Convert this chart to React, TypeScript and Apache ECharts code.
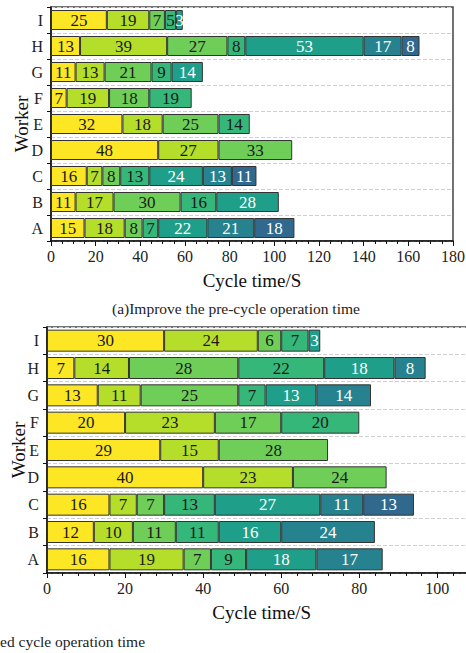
import React, { useEffect, useRef } from "react";
import * as echarts from "echarts";

const workers = ["A", "B", "C", "D", "E", "F", "G", "H", "I"];

// Pre-cycle operation time segments per worker (A..I)
const preA = [15, 18, 8, 7, 22, 21, 18];
const preB = [11, 17, 30, 16, 28];
const preC = [16, 7, 8, 13, 24, 13, 11];
const preD = [48, 27, 33];
const preE = [32, 18, 25, 14];
const preF = [7, 19, 18, 19];
const preG = [11, 13, 21, 9, 14];
const preH = [13, 39, 27, 8, 53, 17, 8];
const preI = [25, 19, 7, 5, 3];

// Improved cycle operation time segments per worker (A..I)
const postA = [16, 19, 7, 9, 18, 17];
const postB = [12, 10, 11, 11, 16, 24];
const postC = [16, 7, 7, 13, 27, 11, 13];
const postD = [40, 23, 24];
const postE = [29, 15, 28];
const postF = [20, 23, 17, 20];
const postG = [13, 11, 25, 7, 13, 14];
const postH = [7, 14, 28, 22, 18, 8];
const postI = [30, 24, 6, 7, 3];

const topTicks = [0, 20, 40, 60, 80, 100, 120, 140, 160, 180];
const bottomTicks = [0, 20, 40, 60, 80, 100];

const colors = ["#fde725", "#b5de2b", "#6ece58", "#35b779", "#1f9e89", "#26828e", "#31688e"];

const FONT = "'Liberation Serif', 'Times New Roman', 'DejaVu Serif', serif";

export default function App() {
  const ref = useRef<HTMLDivElement>(null);
  useEffect(() => {
    if (!ref.current) return;
    const chart = echarts.init(ref.current, undefined, { renderer: "svg" });
    const pre = [preA, preB, preC, preD, preE, preF, preG, preH, preI];
    const post = [postA, postB, postC, postD, postE, postF, postG, postH, postI];
    const series: any[] = [];
    const mk = (rows: number[][], idx: number, stack: string) => {
      for (let k = 0; k < 7; k++) {
        series.push({
          type: "bar",
          stack,
          xAxisIndex: idx,
          yAxisIndex: idx,
          barWidth: idx === 0 ? 20 : 22,
          data: rows.map((r) => (r[k] === undefined ? "-" : r[k])),
          itemStyle: { color: colors[k], borderColor: "#333", borderWidth: 1 },
          label: {
            show: true,
            position: "inside",
            color: k >= 4 ? "#ffffff" : "#1a1a1a",
            fontFamily: FONT,
            fontSize: 17,
          },
        });
      }
    };
    mk(pre, 0, "top");
    mk(post, 1, "bottom");

    const xAxisCommon = (min: number, max: number, minor: number, ticks: number[]) => ({
      type: "value",
      min,
      max,
      interval: ticks[1] - ticks[0],
      name: "Cycle time/S",
      nameLocation: "middle",
      nameGap: 30,
      nameMoveOverlap: false,
      nameTextStyle: { fontFamily: FONT, fontSize: 19, color: "#111" },
      axisLine: { show: true, lineStyle: { color: "#111", width: 1.5 } },
      axisTick: { show: true, length: 5, lineStyle: { color: "#111" } },
      minorTick: { show: true, splitNumber: minor, length: 3, lineStyle: { color: "#111" } },
      splitLine: { show: false },
      axisLabel: {
        fontFamily: FONT,
        fontSize: 16,
        color: "#222",
        margin: 7,
        showMaxLabel: ticks[ticks.length - 1] === max,
        formatter: (v: number) => (ticks.indexOf(v) >= 0 ? String(v) : ""),
      },
    });
    const yAxisCommon = (gap: number) => ({
      type: "category",
      data: workers,
      name: "Worker",
      nameLocation: "middle",
      nameGap: gap,
      nameMoveOverlap: false,
      nameTextStyle: { fontFamily: FONT, fontSize: 19, color: "#111" },
      axisLine: { show: true, lineStyle: { color: "#111", width: 1.5 } },
      axisTick: { show: true, length: 4, lineStyle: { color: "#111" } },
      splitLine: { show: true, lineStyle: { color: "#cfcfcf", type: "dashed", width: 1 } },
      axisLabel: { fontFamily: FONT, fontSize: 16, color: "#222", margin: 8 },
    });

    chart.setOption({
      animation: false,
      textStyle: { fontFamily: FONT },
      grid: [
        { left: 51, top: 7, width: 402, height: 234, show: true, borderColor: "#444", borderWidth: 1.5, backgroundColor: "transparent", containLabel: false, outerBoundsMode: "none" },
        { left: 47, top: 327, width: 429.4, height: 246, show: true, borderColor: "#444", borderWidth: 1.5, backgroundColor: "transparent", containLabel: false, outerBoundsMode: "none" },
      ],
      xAxis: [
        { ...xAxisCommon(0, 180, 4, topTicks), gridIndex: 0 },
        { ...xAxisCommon(0, 110, 5, bottomTicks), gridIndex: 1 },
      ],
      yAxis: [
        { ...yAxisCommon(20), gridIndex: 0 },
        { ...yAxisCommon(19), gridIndex: 1 },
      ],
      graphic: [
        {
          type: "text",
          left: 112,
          top: 300,
          style: { text: "(a)Improve the pre-cycle operation time", fontFamily: FONT, fontSize: 15.5, fill: "#222" },
        },
        {
          type: "text",
          left: 0,
          top: 633,
          style: { text: "ed cycle operation time", fontFamily: FONT, fontSize: 15.5, fill: "#222" },
        },
      ],
      series,
    });
    return () => chart.dispose();
  }, []);
  return (
    <div
      ref={ref}
      style={{ position: "fixed", left: 0, top: 0, width: 480, height: 653, background: "#fff" }}
    />
  );
}
